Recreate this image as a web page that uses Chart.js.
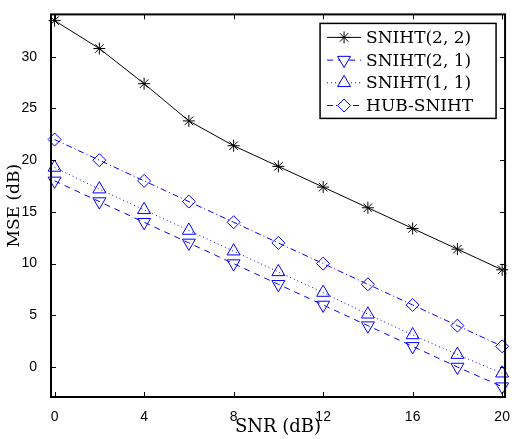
<!DOCTYPE html>
<html>
<head>
<meta charset="utf-8">
<script src="https://cdn.jsdelivr.net/npm/chart.js@4"></script>
<style>
  html, body { margin: 0; padding: 0; background: #fff; }
  #wrap { width: 514px; height: 439px; position: relative; }
</style>
</head>
<body>
<div id="wrap"><canvas id="myChart"></canvas></div>
<script>
const snr = [0, 2, 4, 6, 8, 10, 12, 14, 16, 18, 20];
const sniht22 = [33.5, 30.8, 27.4, 23.8, 21.4, 19.4, 17.4, 15.4, 13.4, 11.4, 9.4];
const sniht21 = [18.0, 16.0, 14.0, 12.0, 10.0, 8.0, 6.0, 4.0, 2.0, 0.0, -1.9];
const sniht11 = [19.3, 17.2, 15.2, 13.2, 11.2, 9.2, 7.2, 5.1, 3.1, 1.2, -0.6];
const hubSniht = [22.0, 20.0, 18.0, 16.0, 14.0, 12.0, 10.0, 8.0, 6.0, 4.0, 2.0];
const xTicks = [0, 4, 8, 12, 16, 20];
const yTicks = [0, 5, 10, 15, 20, 25, 30];
const labels = ['SNIHT(2, 2)', 'SNIHT(2, 1)', 'SNIHT(1, 1)', 'HUB-SNIHT'];

const blue = '#0000ff';
const pts = ys => snr.map((x, i) => ({ x: x, y: ys[i] }));

const datasets = [
    { label: labels[0], data: pts(sniht22), borderColor: '#000', borderDash: [],
      pointStyle: 'star', pointRadius: 6, pointRotation: 0 },
    { label: labels[1], data: pts(sniht21), borderColor: blue, borderDash: [6, 5],
      pointStyle: 'triangle', pointRadius: 7.5, pointRotation: 180 },
    { label: labels[2], data: pts(sniht11), borderColor: blue, borderDash: [1, 3],
      pointStyle: 'triangle', pointRadius: 7.5, pointRotation: 0 },
    { label: labels[3], data: pts(hubSniht), borderColor: blue, borderDash: [6, 3, 1, 3],
      pointStyle: 'rectRot', pointRadius: 6.5, pointRotation: 0 }
].map(d => Object.assign(d, {
    borderWidth: 1,
    pointBorderColor: d.borderColor,
    pointBackgroundColor: 'rgba(0,0,0,0)',
    pointBorderWidth: 1,
    tension: 0,
    clip: false
}));

// box, inward tick marks and the legend
const frame = {
    id: 'frame',
    afterDraw(chart) {
        const c = chart.ctx, a = chart.chartArea;
        const xs = chart.scales.x, ys = chart.scales.y;
        c.save();
        c.strokeStyle = '#000';
        c.lineWidth = 1;
        c.beginPath();
        xTicks.forEach(v => {
            const px = Math.round(xs.getPixelForValue(v)) + 0.5;
            c.moveTo(px, a.bottom); c.lineTo(px, a.bottom - 5);
            c.moveTo(px, a.top); c.lineTo(px, a.top + 5);
        });
        yTicks.forEach(v => {
            const py = Math.round(ys.getPixelForValue(v)) + 0.5;
            c.moveTo(a.left, py); c.lineTo(a.left + 5, py);
            c.moveTo(a.right, py); c.lineTo(a.right - 5, py);
        });
        c.stroke();
        c.lineWidth = 2;
        c.strokeRect(a.left, a.top, a.right - a.left, a.bottom - a.top);

        // legend
        const bx = a.right - 185, by = a.top + 9, bw = 176, bh = 95;
        c.fillStyle = '#fff';
        c.fillRect(bx, by, bw, bh);
        c.lineWidth = 1.5;
        c.strokeRect(bx, by, bw, bh);
        chart.data.datasets.forEach((d, i) => {
            const ry = by + 14 + i * 22.7;
            c.lineWidth = 1;
            c.strokeStyle = d.borderColor;
            c.setLineDash(d.borderDash);
            c.beginPath();
            c.moveTo(bx + 7, ry); c.lineTo(bx + 41, ry);
            c.stroke();
            c.setLineDash([]);
            c.fillStyle = '#fff';
            Chart.helpers.drawPoint(c, {
                pointStyle: d.pointStyle, radius: d.pointRadius,
                rotation: d.pointRotation, borderWidth: 1
            }, bx + 24, ry);
            c.fillStyle = '#000';
            c.font = '17px "DejaVu Serif"';
            c.textBaseline = 'middle';
            c.fillText(d.label, bx + 46, ry + 1);
        });
        c.restore();
    }
};

new Chart(document.getElementById('myChart'), {
    type: 'line',
    data: { datasets: datasets },
    plugins: [frame],
    options: {
        animation: false,
        responsive: true,
        maintainAspectRatio: false,
        layout: { padding: { left: 0, top: 9, right: 6, bottom: 0 } },
        plugins: { legend: { display: false }, tooltip: { enabled: false } },
        scales: {
            x: {
                type: 'linear', min: -0.16, max: 20.13,
                afterBuildTicks: s => { s.ticks = xTicks.map(v => ({ value: v })); },
                afterFit: s => { s.height = 42; },
                grid: { display: false },
                border: { display: false },
                ticks: { color: '#000', padding: 4, maxRotation: 0,
                         font: { family: '"Liberation Sans"', size: 14 } },
                title: { display: true, text: 'SNR (dB)', color: '#000', padding: { top: 0, bottom: 1 },
                         font: { family: '"DejaVu Serif"', size: 18 } }
            },
            y: {
                type: 'linear', min: -2.9, max: 34.1,
                afterBuildTicks: s => { s.ticks = yTicks.map(v => ({ value: v })); },
                afterFit: s => { s.width = 51; },
                grid: { display: false },
                border: { display: false },
                ticks: { color: '#000', padding: 6,
                         font: { family: '"Liberation Sans"', size: 14 } },
                title: { display: true, text: 'MSE (dB)', color: '#000', padding: { top: 4, bottom: 0 },
                         font: { family: '"DejaVu Serif"', size: 17 } }
            }
        }
    }
});
</script>
</body>
</html>
